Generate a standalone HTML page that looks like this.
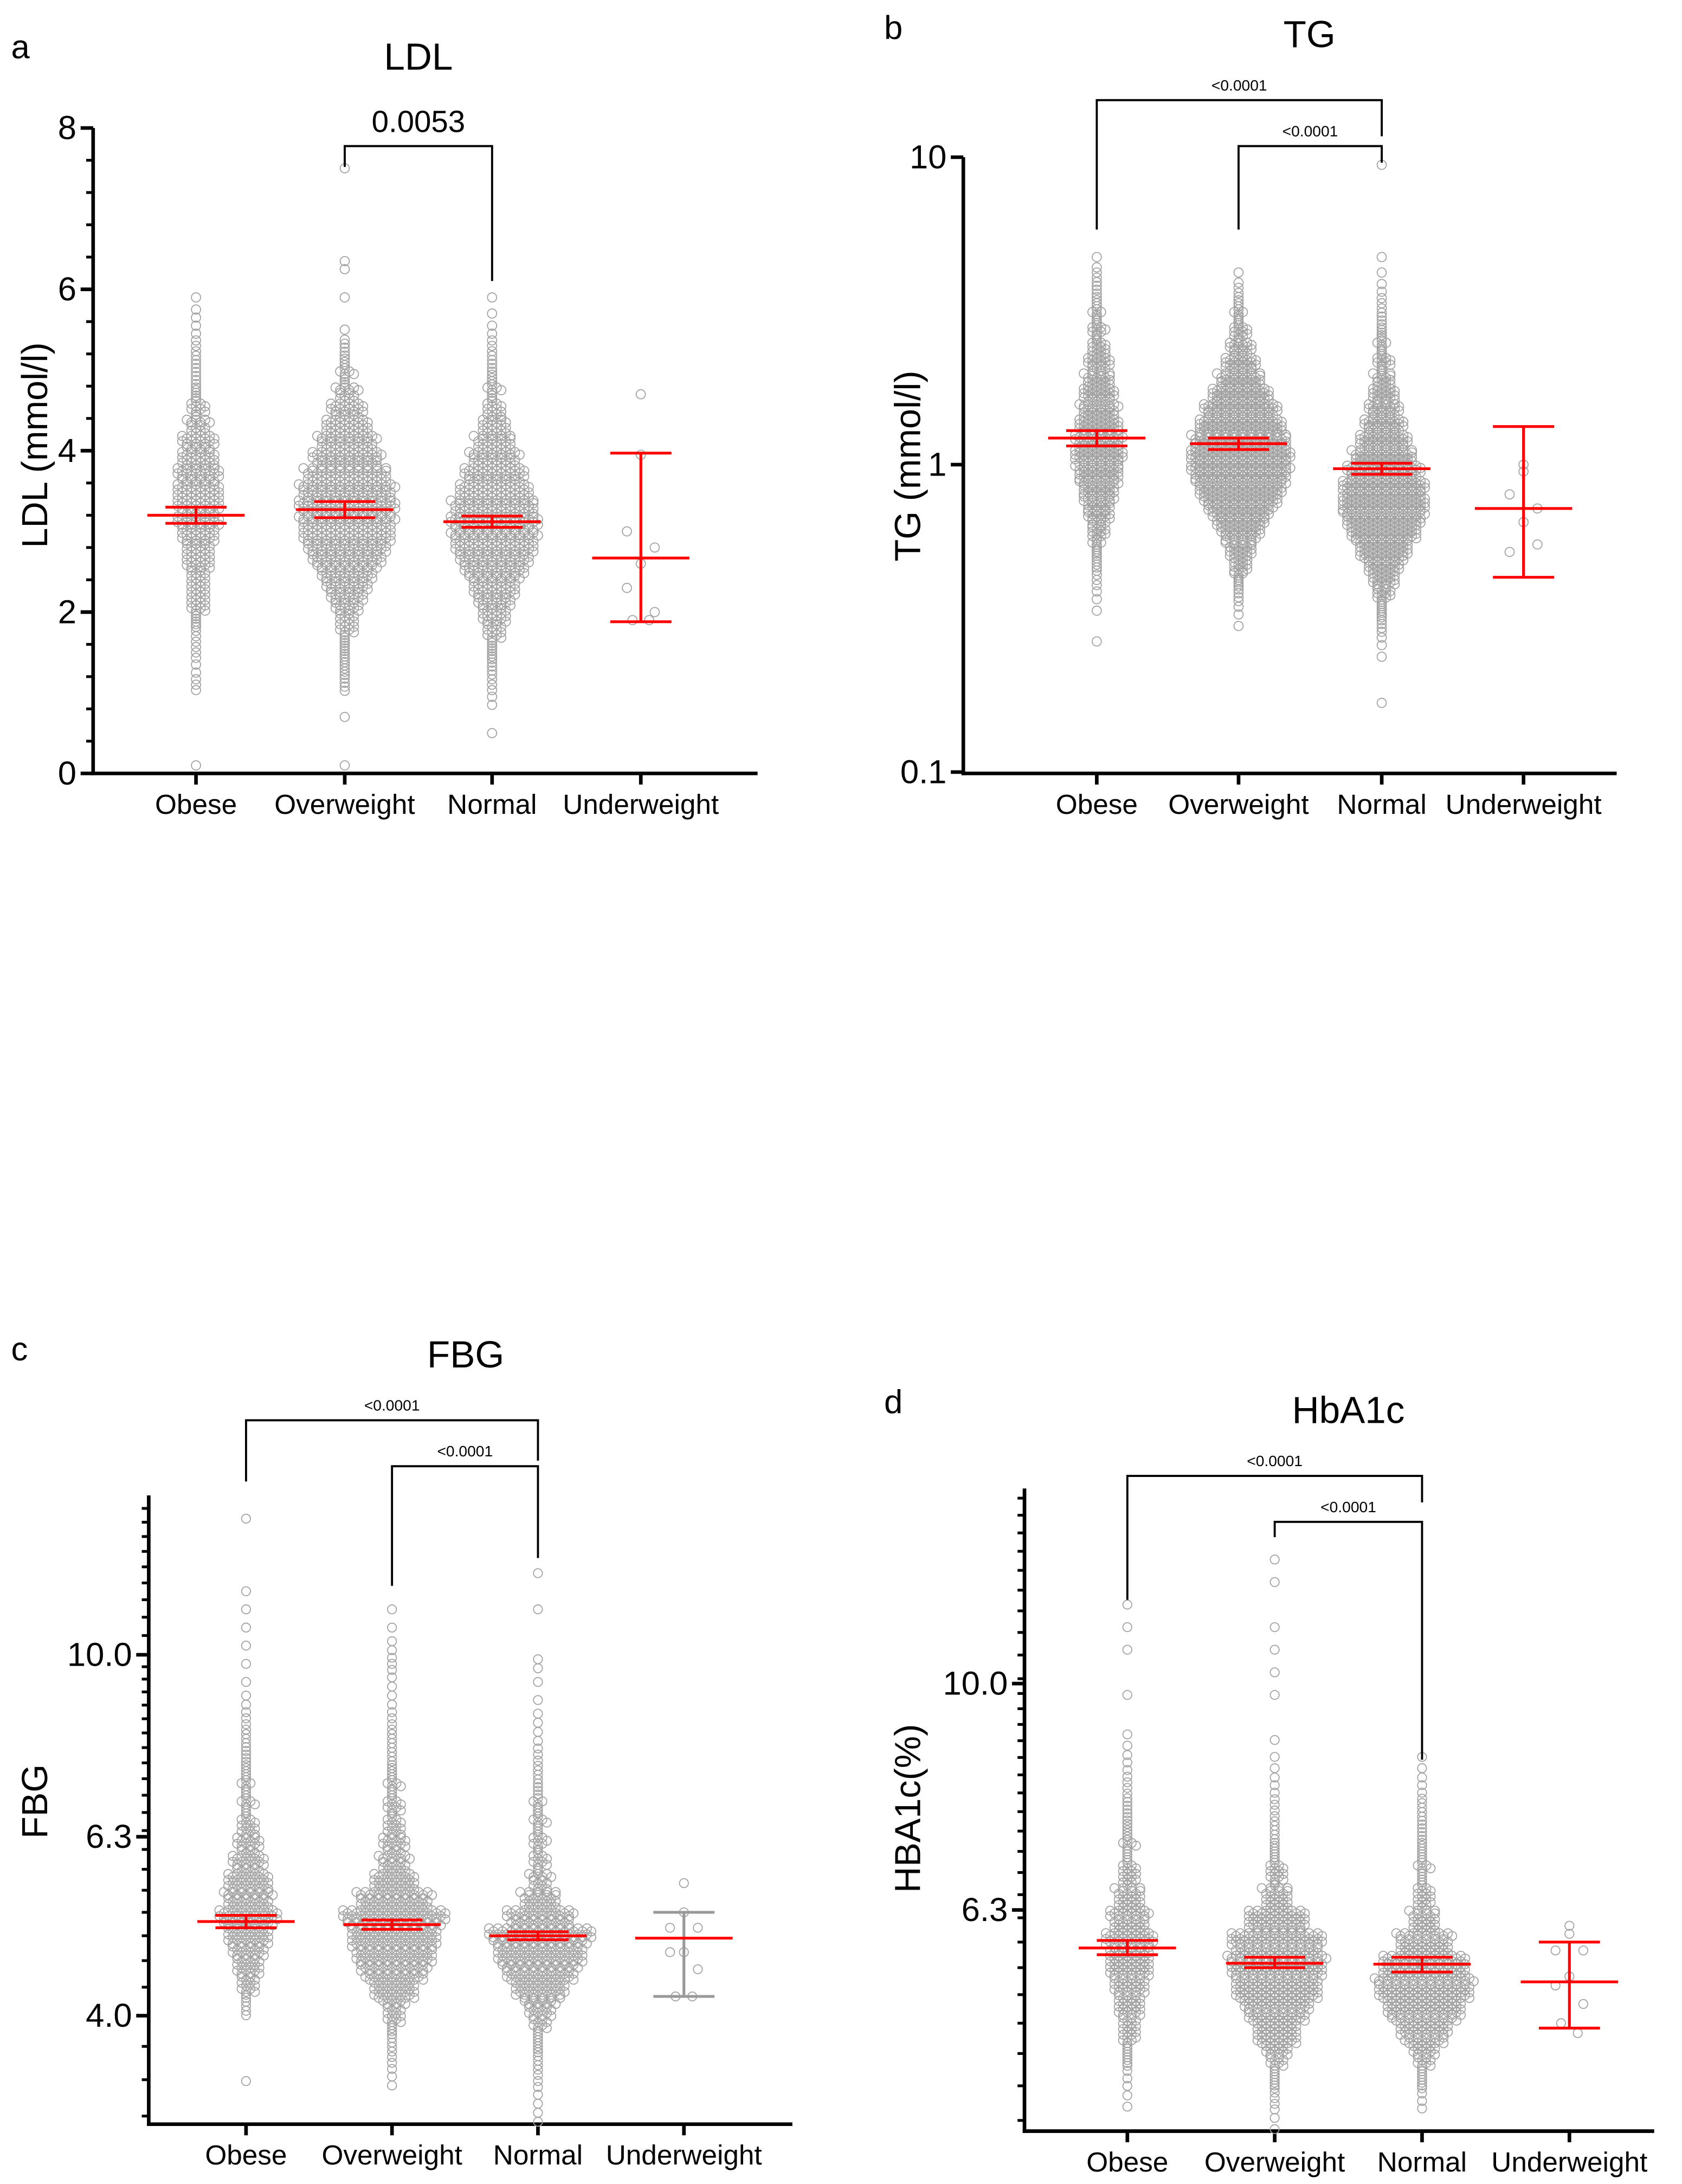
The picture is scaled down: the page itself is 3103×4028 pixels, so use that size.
<!DOCTYPE html>
<html><head><meta charset="utf-8">
<style>
html,body{margin:0;padding:0;background:#fff;}
svg{display:block;font-family:"Liberation Sans",Arial,sans-serif;}
</style></head>
<body>
<svg id="fig" width="3103" height="4028" viewBox="0 0 1210 1570" preserveAspectRatio="none" xmlns="http://www.w3.org/2000/svg"></svg>
<script>
// ---------- DATA ----------
const categories = ["Obese","Overweight","Normal","Underweight"];

// LDL: histogram counts, bins of 0.2 mmol/l starting at 0
const ldlBinStart = 0, ldlBinWidth = 0.2;
const ldlObese = [1,0,0,0,0,3,2,3,3,6,12,12,14,18,22,28,28,30,28,24,22,14,10,6,4,4,3,2,2,1];
const ldlOverweight = [1,0,0,1,0,4,5,6,8,12,20,28,38,50,58,62,64,62,55,45,38,30,22,14,8,5,4,1,0,1,0,2,0,0,0,0,0,1];
const ldlNormal = [0,0,1,0,2,3,4,6,10,16,22,30,40,50,56,58,55,48,40,32,25,18,12,8,5,4,3,2,1,1];
const ldlUnder = [4.7,3.95,3.0,2.8,2.6,2.3,2.0,1.9,1.9];
const ldlMeans = [3.2,3.27,3.12,2.67];
const ldlErrLo = [3.1,3.17,3.05,1.88];
const ldlErrHi = [3.3,3.37,3.19,3.97];
const ldlTicks = [0,2,4,6,8];

// TG: histogram counts over log10 bins of 0.05 starting at -0.8
const tgBinStart = -0.8, tgBinWidth = 0.05;
const tgObese = [0,0,0,0,1,0,1,2,3,5,8,12,18,24,30,36,40,38,34,30,26,22,18,14,10,8,5,4,3,1,0,0,0,0,0,0];
const tgOverweight = [0,0,0,0,0,1,2,4,8,14,22,32,45,60,72,80,82,78,70,60,48,36,26,18,12,8,5,3,1,0,0,0,0,0,0,0];
const tgNormal = [1,0,0,1,2,4,7,12,20,30,42,55,65,70,68,60,50,40,32,25,20,15,11,8,6,4,3,2,1,1,0,0,0,0,0,1];
const tgUnder = [1.0,0.95,0.8,0.72,0.65,0.52,0.55];
const tgMeans = [1.22,1.17,0.97,0.72];
const tgErrLo = [1.15,1.12,0.93,0.43];
const tgErrHi = [1.29,1.22,1.01,1.33];
const tgTicks = [0.1,1,10];
const tgTickLabels = ["0.1","1","10"];

// FBG: histogram counts over log10 bins of 0.02 starting at 0.48
const fbgBinStart = 0.48, fbgBinWidth = 0.02;
const fbgObese = [0,0,1,0,0,0,4,10,16,22,30,40,32,30,22,16,12,8,7,6,5,4,3,2,1,1,1,1,1,1,0,0,0,1,0];
const fbgOverweight = [0,0,2,3,4,8,14,30,45,55,60,70,50,30,20,16,12,10,8,6,4,4,3,2,2,3,2,1,1,0,0,0,0,0,0];
const fbgNormal = [2,2,3,4,6,10,20,35,50,60,70,45,25,14,10,9,8,7,5,4,3,2,2,1,1,2,0,0,1,0,1,0,0,0,0];
const fbgUnder = [5.6,5.2,5.0,5.0,4.7,4.7,4.5,4.2,4.2];
const fbgMeans = [5.08,5.04,4.9,4.87];
const fbgErrLo = [5.0,4.98,4.85,4.2];
const fbgErrHi = [5.16,5.1,4.95,5.2];
const fbgTicks = [4.0,6.3,10.0];
const fbgTickLabels = ["4.0","6.3","10.0"];

// HbA1c: histogram counts over log10 bins of 0.02 starting at 0.6
const hbBinStart = 0.6, hbBinWidth = 0.02;
const hbObese = [0,2,3,8,15,22,30,40,45,35,25,15,10,7,6,4,3,2,0,1,0,1,1,1,0,0,0,0];
const hbOverweight = [2,4,8,20,40,60,80,90,85,55,25,14,8,5,4,3,2,1,0,1,1,1,1,0,1,1,0,0];
const hbNormal = [0,3,8,20,45,70,90,80,50,25,15,10,8,6,5,3,2,0,0,0,0,0,0,0,0,0,0,0];
const hbUnder = [6.1,6.0,5.8,5.8,5.5,5.4,5.2,5.0,4.9];
const hbMeans = [5.83,5.65,5.64,5.44];
const hbErrLo = [5.75,5.6,5.55,4.95];
const hbErrHi = [5.92,5.72,5.72,5.9];
const hbTicks = [6.3,10.0];
const hbTickLabels = ["6.3","10.0"];

// ---------- DRAWING ----------
const svg = document.getElementById('fig');
const NS = "http://www.w3.org/2000/svg";
function mk(tag, attrs, parent){
  const e = document.createElementNS(NS, tag);
  for (const k in attrs) e.setAttribute(k, attrs[k]);
  (parent||svg).appendChild(e);
  return e;
}
function txt(s, x, y, size, anchor, parent, extra){
  const t = mk('text', Object.assign({x:x, y:y, 'font-size':size, 'text-anchor':anchor||'middle', fill:'#000'}, extra||{}), parent);
  t.textContent = s;
  return t;
}

function panel(cfg){
  const g = mk('g', {});
  
  
  const y = cfg.yScale;
  const L = txt(cfg.letter, cfg.letterX, cfg.letterY, 24, 'start', g);
  
  
  const T = txt(cfg.title, cfg.titleX, cfg.titleY, 27, 'middle', g);
  
  
  const yt = txt(cfg.ytitle, 0, 0, 26, 'middle', g, {transform:`translate(${cfg.ytX},${cfg.ytY}) rotate(-90)`});
  
  
  const ax = mk('g', {stroke:'#000','stroke-width':2.6, fill:'none'}, g);
  
  
  mk('line', {x1:cfg.ax, y1:cfg.yTop, x2:cfg.ax, y2:cfg.yBot+1.3}, ax);
  mk('line', {x1:cfg.ax-1.3, y1:cfg.yBot, x2:cfg.xEnd, y2:cfg.yBot}, ax);
  cfg.minor.forEach(v=>{ const p=y(v); if(p>=cfg.yTop-1&&p<=cfg.yBot+1) mk('line',{x1:cfg.ax-5,y1:p,x2:cfg.ax,y2:p,'stroke-width':2},ax); });
  cfg.ticks.forEach((v,i)=>{
    const p = y(v);
    mk('line',{x1:cfg.ax-9,y1:p,x2:cfg.ax,y2:p},ax);
    const t = txt(cfg.tickLabels[i], cfg.ax-12, p+8, 24, 'end', g);
    
    
  });
  categories.forEach((c,i)=>{
    const x = cfg.cx[i];
    mk('line',{x1:x,y1:cfg.yBot,x2:x,y2:cfg.yBot+8},ax);
    const t = txt(c, x, cfg.yBot+29, 20, 'middle', g);
    
    
  });
  const pts = mk('g', {stroke:'#a3a3a3','stroke-width':0.7, fill:'none'}, g);
  
  
  cfg.hists.forEach((h,gi)=>{
    const cx = cfg.cx[gi];
    h.forEach((n,bi)=>{
      if(!n) return;
      const v0 = cfg.binStart + bi*cfg.binWidth, v1 = v0 + cfg.binWidth;
      const pa = cfg.binY(v0), pb = cfg.binY(v1);
      const hgt = Math.abs(pa-pb), top = Math.min(pa,pb);
      const rows = Math.max(1, Math.min(n, Math.round(hgt/cfg.rowGap)));
      for(let k=0;k<n;k++){
        const r = k % rows, col = Math.floor(k/rows);
        const inRow = Math.ceil((n - r)/rows);
        const px = cx + (col - (inRow-1)/2)*cfg.dx + ((r%2)?cfg.dx/2:0)*(inRow>1?1:0);
        const py = rows===1 ? (pa+pb)/2 : top + (r+0.5)*hgt/rows;
        const c = mk('circle',{cx:px.toFixed(1), cy:py.toFixed(1), r:cfg.r}, pts);
        
        
      }
    });
  });
  cfg.under.forEach((v,k)=>{
    const off = [0,0,-10,10,0,-10,10,-6,6][k%9];
    const c = mk('circle',{cx:cfg.cx[3]+off, cy:y(v), r:cfg.r}, pts);
    
    
  });
  cfg.means.forEach((m,i)=>{
    const eg = mk('g',{stroke:'#f00','stroke-width':2, fill:'none'}, g);
    
    
    const x = cfg.cx[i];
    const errColor = (i===3 && cfg.grayUW) ? '#999' : '#f00';
    mk('line',{x1:x,y1:y(cfg.lo[i]),x2:x,y2:y(cfg.hi[i]),stroke:errColor},eg);
    mk('line',{x1:x-22,y1:y(cfg.lo[i]),x2:x+22,y2:y(cfg.lo[i]),stroke:errColor},eg);
    mk('line',{x1:x-22,y1:y(cfg.hi[i]),x2:x+22,y2:y(cfg.hi[i]),stroke:errColor},eg);
    mk('line',{x1:x-35,y1:y(m),x2:x+35,y2:y(m)},eg);
  });
  cfg.brackets.forEach(b=>{
    const bg = mk('g',{stroke:'#000','stroke-width':1.5, fill:'none'}, g);
    
    
    mk('polyline',{points:`${b.x1},${b.yl} ${b.x1},${b.y} ${b.x2},${b.y} ${b.x2},${b.yr}`},bg);
    const t = txt(b.label, (b.x1+b.x2)/2, b.y - b.gap, b.size, 'middle', g);
    
    
  });
}

(function(){
  const y = v => 556 - v*(556-92)/8;
  const minor=[]; for(let v=0; v<=8.001; v+=0.4) minor.push(+v.toFixed(2));
  panel({name:'ldl', letter:'a', letterX:8, letterY:42, title:'LDL', titleX:301, titleY:50,
    ytitle:'LDL (mmol/l)', ytX:34, ytY:320, ax:67, yTop:92, yBot:556, xEnd:545,
    yScale:y, binY:y, ticks:ldlTicks, tickLabels:ldlTicks.map(String), minor:minor,
    cx:[141,248,354,461], hists:[ldlObese,ldlOverweight,ldlNormal], binStart:ldlBinStart, binWidth:ldlBinWidth,
    under:ldlUnder, means:ldlMeans, lo:ldlErrLo, hi:ldlErrHi, r:3.3, dx:6.6, rowGap:2,
    brackets:[{x1:248,x2:354,y:105,yl:120,yr:202,label:'0.0053',size:22,gap:10}]});
})();

(function(){
  const y = v => 334 - Math.log10(v)*221;
  const yl = l => 334 - l*221;
  panel({name:'tg', letter:'b', letterX:636, letterY:28, title:'TG', titleX:942, titleY:34,
    ytitle:'TG (mmol/l)', ytX:662, ytY:335, ax:693, yTop:113, yBot:556, xEnd:1163,
    yScale:y, binY:yl, ticks:tgTicks, tickLabels:tgTickLabels, minor:[],
    cx:[789,891,994,1096], hists:[tgObese,tgOverweight,tgNormal], binStart:tgBinStart, binWidth:tgBinWidth,
    under:tgUnder, means:tgMeans, lo:tgErrLo, hi:tgErrHi, r:3.3, dx:6.2, rowGap:1.5,
    brackets:[{x1:789,x2:994,y:72,yl:165,yr:98,label:'<0.0001',size:11,gap:7},
              {x1:891,x2:994,y:105,yl:165,yr:117,label:'<0.0001',size:11,gap:7}]});
})();

(function(){
  const y = v => 1449 - (Math.log10(v)-Math.log10(4))*652;
  const yl = l => 1449 - (l-Math.log10(4))*652;
  const minor=[]; for(let v=3.1; v<=15; v+= (v<10?0.3:0.5)) minor.push(v);
  panel({name:'fbg', letter:'c', letterX:8, letterY:978, title:'FBG', titleX:335, titleY:983,
    ytitle:'FBG', ytX:34, ytY:1295, ax:107, yTop:1075, yBot:1527, xEnd:570,
    yScale:y, binY:yl, ticks:fbgTicks, tickLabels:fbgTickLabels, minor:minor,
    cx:[177,282,387,492], hists:[fbgObese,fbgOverweight,fbgNormal], binStart:fbgBinStart, binWidth:fbgBinWidth,
    under:fbgUnder, means:fbgMeans, lo:fbgErrLo, hi:fbgErrHi, r:3.2, dx:6.4, rowGap:2.2, grayUW:true,
    brackets:[{x1:177,x2:387,y:1021,yl:1065,yr:1050,label:'<0.0001',size:11,gap:7},
              {x1:282,x2:387,y:1054,yl:1140,yr:1120,label:'<0.0001',size:11,gap:7}]});
})();

(function(){
  const y = v => 1373 - (Math.log10(v)-Math.log10(6.3))*811;
  const yl = l => 1373 - (l-Math.log10(6.3))*811;
  const minor=[]; for(let v=4.1; v<=14.8; v+= (v<10?0.3:0.5)) minor.push(v);
  panel({name:'hba1c', letter:'d', letterX:636, letterY:1016, title:'HbA1c', titleX:970, titleY:1023,
    ytitle:'HBA1c(%)', ytX:662, ytY:1300, ax:737, yTop:1070, yBot:1532, xEnd:1190,
    yScale:y, binY:yl, ticks:hbTicks, tickLabels:hbTickLabels, minor:minor,
    cx:[811,917,1023,1129], hists:[hbObese,hbOverweight,hbNormal], binStart:hbBinStart, binWidth:hbBinWidth,
    under:hbUnder, means:hbMeans, lo:hbErrLo, hi:hbErrHi, r:3.2, dx:6.2, rowGap:2,
    brackets:[{x1:811,x2:1023,y:1061,yl:1150,yr:1080,label:'<0.0001',size:11,gap:7},
              {x1:917,x2:1023,y:1094,yl:1105,yr:1265,label:'<0.0001',size:11,gap:7}]});
})();
</script>
</body></html>
